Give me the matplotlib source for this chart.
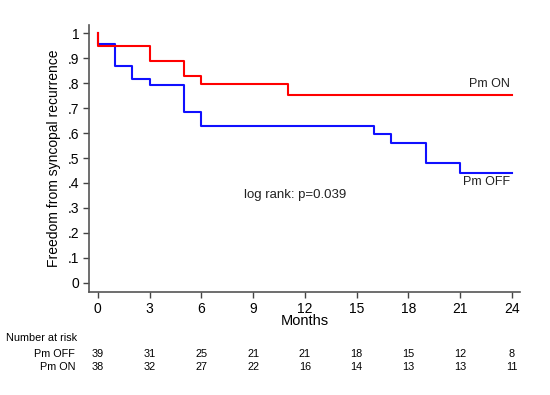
import matplotlib
matplotlib.use("Agg")
import matplotlib.pyplot as plt
from matplotlib.transforms import blended_transform_factory

plt.rcParams['font.family'] = ['Liberation Sans', 'DejaVu Sans']

# Kaplan-Meier steps (month of change, survival after change)
on_months = [0, 0, 3, 5, 6, 11, 24]
on_surv = [1.0, 0.947, 0.889, 0.829, 0.797, 0.753, 0.753]
off_months = [0, 0, 1, 2, 3, 5, 6, 16, 17, 19, 21, 24]
off_surv = [1.0, 0.955, 0.870, 0.817, 0.794, 0.685, 0.627, 0.597, 0.561, 0.479, 0.442, 0.442]

risk_times = [0, 3, 6, 9, 12, 15, 18, 21, 24]
risk_off = [39, 31, 25, 21, 21, 18, 15, 12, 8]
risk_on = [38, 32, 27, 22, 16, 14, 13, 13, 11]

y_ticks = [0, 0.1, 0.2, 0.3, 0.4, 0.5, 0.6, 0.7, 0.8, 0.9, 1.0]
y_labels = ["0", ".1", ".2", ".3", ".4", ".5", ".6", ".7", ".8", ".9", "1"]

fig = plt.figure(figsize=(5.5, 3.95), dpi=100)
ax = fig.add_axes([0.162, 0.261, 0.783, 0.676])

ax.step(off_months, off_surv, where="post", color="#1010ff", lw=1.5)
ax.step(on_months, on_surv, where="post", color="#ff0000", lw=1.5)

ax.set_xlim(-0.5, 24.45)
ax.set_ylim(-0.036, 1.033)
ax.set_xticks(risk_times)
ax.set_yticks(y_ticks)
ax.set_yticklabels(y_labels)
ax.tick_params(labelsize=10, length=4, width=1, color="#444444", pad=3)

for s in ["top", "right"]:
    ax.spines[s].set_visible(False)
for s in ["left", "bottom"]:
    ax.spines[s].set_color("#555555")
    ax.spines[s].set_linewidth(1.2)

ax.set_xlabel("Months", fontsize=10.5, labelpad=-1)
ax.set_ylabel("Freedom from syncopal recurrence", fontsize=10, labelpad=5)

ax.text(23.9, 0.795, "Pm ON", ha="right", va="center", fontsize=9, color="#222222")
ax.text(23.9, 0.405, "Pm OFF", ha="right", va="center", fontsize=9, color="#222222")
ax.text(8.5, 0.35, "log rank: p=0.039", ha="left", va="center", fontsize=9.5, color="#222222")

# number at risk table under the axis
trans = blended_transform_factory(ax.transData, fig.transFigure)
fig.text(0.011, 1 - 338 / 395, "Number at risk", ha="left", va="center", fontsize=7.8)
fig.text(0.137, 1 - 354 / 395, "Pm OFF", ha="right", va="center", fontsize=7.8)
fig.text(0.137, 1 - 367 / 395, "Pm ON", ha="right", va="center", fontsize=7.8)
for t, a, b in zip(risk_times, risk_off, risk_on):
    ax.text(t, 1 - 354 / 395, str(a), transform=trans, ha="center", va="center", fontsize=7.8, clip_on=False)
    ax.text(t, 1 - 367 / 395, str(b), transform=trans, ha="center", va="center", fontsize=7.8, clip_on=False)

fig.savefig("out.png", dpi=100)
